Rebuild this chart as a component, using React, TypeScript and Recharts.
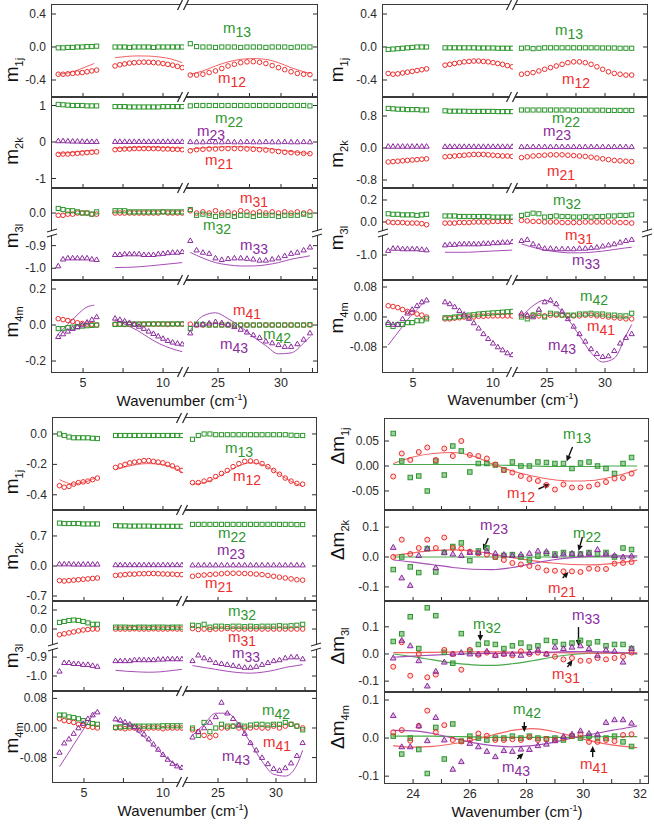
import React from "react"
import { ComposedChart, Scatter, Line, XAxis, YAxis, ReferenceLine } from "recharts"

const FONT = "'Liberation Sans', Arial, Helvetica, sans-serif"
const INK = "#2b2b2b"
const RED = "#ee2d2d"
const GREEN = "#2c962c"
const PURPLE = "#8b2b9d"
const RED_LINE = "#f26262"
const GREEN_LINE = "#4aa84a"
const PURPLE_LINE = "#a64db5"

// x positions of the measured points (three wavenumber windows)
const XA = [3.45, 3.75, 4.05, 4.35, 4.65, 4.95, 5.25, 5.55, 5.85]
const XB = [7.0, 7.3, 7.6, 7.9, 8.2, 8.5, 8.8, 9.1, 9.4, 9.7, 10.0, 10.3, 10.6, 10.9, 11.2]
const XC = [22.8, 23.3, 23.8, 24.3, 24.8, 25.3, 25.8, 26.3, 26.8, 27.3, 27.8, 28.3, 28.8, 29.3, 29.8, 30.3, 30.8, 31.3, 31.8, 32.3]
const XS = [...XA, ...XB, ...XC]
// x positions of the model curves
const LA = [3.45, 3.9, 4.35, 4.8, 5.25, 5.7]
const LB = [7.0, 7.7, 8.4, 9.1, 9.8, 10.5, 11.2]
const LC = [22.8, 23.8, 24.8, 25.8, 26.8, 27.8, 28.8, 29.8, 30.8, 31.8, 32.3]
// difference panel
const XD = [23.3, 23.6, 23.9, 24.2, 24.5, 24.8, 25.1, 25.4, 25.7, 26.0, 26.3, 26.6, 26.9, 27.2, 27.5, 27.8, 28.1, 28.4, 28.7, 29.0, 29.3, 29.6, 29.9, 30.2, 30.5, 30.8, 31.1, 31.4, 31.7]
const LD = [23.3, 24.0, 24.7, 25.4, 26.1, 26.8, 27.5, 28.2, 28.9, 29.6, 30.3, 31.0, 31.7, 31.9]

const X_TICKS_A = [5, 7.5, 10]
const X_LAB_A = [5, 10]
const X_TICKS_C = [25, 27.5, 30, 32.5]
const X_LAB_C = [25, 30]
const X_TICKS_D = [24, 25, 26, 27, 28, 29, 30, 31, 32]
const X_LAB_D = [24, 26, 28, 30, 32]

// ---- top-left panel ----
const TL_M13 = [
  -0.01, -0.01, -0.005, -0.005, 0, 0, 0.005, 0.005, 0.01,
  0, 0, 0, -0.005, 0, 0, 0, 0, -0.005, 0, 0, 0, 0, 0, 0,
  0.04, 0.005, 0, 0, -0.005, 0, 0, 0, -0.005, 0, 0, 0, -0.005, 0, 0, 0, -0.005, 0, 0, 0,
]
const TL_M12 = [
  -0.33, -0.33, -0.325, -0.32, -0.315, -0.31, -0.3, -0.29, -0.28,
  -0.23, -0.215, -0.205, -0.195, -0.19, -0.185, -0.183, -0.185, -0.188, -0.193, -0.2, -0.21, -0.22, -0.235, -0.25,
  -0.34, -0.34, -0.33, -0.31, -0.29, -0.26, -0.23, -0.21, -0.19, -0.18, -0.178, -0.185, -0.2, -0.225, -0.25, -0.275, -0.3, -0.32, -0.33, -0.335,
]
const TL_M12_FIT = [
  -0.33, -0.32, -0.3, -0.27, -0.235, -0.2,
  -0.13, -0.115, -0.108, -0.11, -0.122, -0.145, -0.19,
  -0.33, -0.29, -0.23, -0.18, -0.15, -0.14, -0.15, -0.19, -0.25, -0.3, -0.32,
]
const TL_M22 = [
  1.03, 1.02, 1.01, 1.0, 1.0, 1.0, 0.99, 0.99, 0.99,
  0.97, 0.97, 0.97, 0.96, 0.96, 0.96, 0.96, 0.96, 0.96, 0.96, 0.97, 0.97, 0.97, 0.97, 0.97,
  0.99, 1.0, 1.0, 1.0, 1.0, 1.0, 1.0, 1.0, 1.0, 1.0, 1.0, 1.0, 1.0, 1.0, 1.0, 1.0, 1.0, 1.0, 1.0, 0.99,
]
const TL_M23 = [
  0.03, 0.03, 0.025, 0.02, 0.02, 0.015, 0.01, 0.01, 0.01,
  0.01, 0.01, 0.01, 0.01, 0.01, 0.01, 0.01, 0.01, 0.01, 0.01, 0.01, 0.01, 0.01, 0.01, 0.01,
  0.005, 0, 0, 0.005, 0, 0, 0.005, 0, 0, 0.005, 0, 0, 0.005, 0, 0, 0.005, 0, 0, 0.005, 0,
]
const TL_M21 = [
  -0.34, -0.33, -0.33, -0.32, -0.31, -0.3, -0.29, -0.28, -0.27,
  -0.21, -0.2, -0.19, -0.19, -0.18, -0.18, -0.18, -0.18, -0.18, -0.18, -0.19, -0.19, -0.2, -0.2, -0.21,
  -0.24, -0.21, -0.2, -0.19, -0.19, -0.18, -0.18, -0.18, -0.18, -0.19, -0.2, -0.21, -0.22, -0.24, -0.26, -0.28, -0.29, -0.3, -0.31, -0.32,
]
const TL_M21_FIT = [
  -0.31, -0.3, -0.28, -0.26, -0.24, -0.22,
  -0.17, -0.155, -0.145, -0.14, -0.145, -0.155, -0.17,
  -0.2, -0.16, -0.14, -0.13, -0.13, -0.14, -0.17, -0.21, -0.26, -0.3, -0.31,
]
const TL_M31 = [
  -0.01, -0.01, -0.005, -0.005, 0, 0, 0, -0.005, -0.005,
  0, 0, 0, 0, 0, 0, 0, 0, 0, 0, 0.005, 0, 0, 0, 0,
  0.01, 0, 0.005, 0, 0.01, 0, 0.005, 0, 0.01, 0.005, 0, 0.005, 0, 0.005, 0, 0.005, 0, 0.005, 0, 0.005,
]
const TL_M32 = [
  0.02, 0.015, 0.01, 0.01, 0.005, 0, 0, -0.005, 0.005,
  0.01, 0.01, 0.01, 0.005, 0.005, 0.005, 0.005, 0.005, 0.005, 0.005, 0.005, 0.005, 0.005, 0.005, 0.005,
  0.015, -0.01, -0.005, -0.01, -0.015, -0.01, -0.01, -0.015, -0.01, -0.01, -0.015, -0.01, -0.01, -0.01, -0.015, -0.01, -0.01, -0.01, -0.005, -0.01,
]
const TL_M33 = [
  -0.99, -0.96, -0.955, -0.955, -0.955, -0.955, -0.955, -0.96, -0.962,
  -0.94, -0.94, -0.937, -0.937, -0.937, -0.937, -0.94, -0.94, -0.94, -0.937, -0.935, -0.932, -0.93, -0.93, -0.927,
  -0.878, -0.92, -0.93, -0.935, -0.955, -0.962, -0.958, -0.955, -0.955, -0.957, -0.96, -0.965, -0.965, -0.96, -0.955, -0.945, -0.935, -0.93, -0.92, -0.907,
]
const TL_M33_FIT = [
  null, null, null, null, null, null,
  -0.997, -0.996, -0.994, -0.99, -0.985, -0.98, -0.975,
  -0.93, -0.955, -0.975, -0.985, -0.99, -0.99, -0.985, -0.975, -0.96, -0.95, -0.945,
]
const TL_M41 = [
  0.035, 0.03, 0.025, 0.02, 0.012, 0.008, 0.005, 0.003, 0,
  0.005, 0.005, 0.003, 0.005, 0.005, 0.005, 0.003, 0.005, 0.005, 0.005, 0.005, 0.003, 0.005, 0.005, 0.005,
  0.005, 0, 0, 0, 0, 0, 0, 0, 0, 0, 0, 0, 0, 0, 0, 0, 0, 0, 0, 0,
]
const TL_M42 = [
  -0.02, -0.02, -0.015, -0.012, -0.01, -0.006, -0.004, -0.002, 0,
  0.003, 0.004, 0.005, 0.005, 0.005, 0.005, 0.006, 0.006, 0.006, 0.006, 0.006, 0.006, 0.006, 0.006, 0.006,
  -0.02, 0.005, 0.002, 0, 0, 0, 0, 0, 0, 0, 0, 0, 0, 0, 0, 0, 0, 0, 0, 0.002,
]
const TL_M43 = [
  -0.065, -0.05, -0.035, -0.02, -0.01, 0, 0.015, 0.03, 0.045,
  0.037, 0.03, 0.022, 0.013, 0.003, -0.008, -0.02, -0.035, -0.048, -0.062, -0.075, -0.087, -0.096, -0.102, -0.106,
  -0.045, 0, 0.005, 0.01, 0.018, 0.012, 0.003, -0.01, -0.025, -0.04, -0.055, -0.07, -0.09, -0.1, -0.11, -0.12, -0.12, -0.105, -0.08, -0.045,
]
const TL_M43_FIT = [
  -0.05, -0.01, 0.03, 0.07, 0.1, 0.11,
  0.03, 0, -0.03, -0.07, -0.105, -0.13, -0.148,
  -0.03, 0.05, 0.068, 0.035, -0.01, -0.065, -0.115, -0.16, -0.155, -0.1, -0.065,
]

// ---- top-right panel ----
const TR_M13 = [
  -0.03, -0.025, -0.02, -0.015, -0.01, -0.005, 0, 0, 0,
  -0.01, -0.01, -0.01, -0.01, -0.01, -0.01, -0.01, -0.012, -0.012, -0.012, -0.012, -0.015, -0.015, -0.015, -0.015,
  -0.015, -0.01, -0.02, -0.015, -0.01, -0.01, -0.01, -0.01, -0.01, -0.01, -0.01, -0.01, -0.01, -0.01, -0.012, -0.012, -0.012, -0.015, -0.015, -0.015,
]
const TR_M12 = [
  -0.32, -0.33, -0.325, -0.315, -0.305, -0.295, -0.285, -0.275, -0.265,
  -0.22, -0.21, -0.2, -0.19, -0.18, -0.175, -0.17, -0.17, -0.175, -0.18, -0.19, -0.2, -0.21, -0.225, -0.24,
  -0.33, -0.32, -0.31, -0.29, -0.27, -0.25, -0.23, -0.21, -0.19, -0.18, -0.18, -0.19, -0.21, -0.24, -0.27, -0.3, -0.32, -0.33, -0.34, -0.34,
]
const TR_M22 = [
  0.99, 0.98, 0.97, 0.97, 0.96, 0.96, 0.96, 0.95, 0.95,
  0.93, 0.92, 0.92, 0.92, 0.92, 0.915, 0.915, 0.915, 0.915, 0.915, 0.915, 0.91, 0.91, 0.91, 0.91,
  0.95, 0.95, 0.95, 0.95, 0.95, 0.95, 0.95, 0.95, 0.95, 0.945, 0.945, 0.945, 0.945, 0.945, 0.945, 0.94, 0.94, 0.94, 0.94, 0.94,
]
const TR_M23 = [
  0.04, 0.04, 0.04, 0.04, 0.04, 0.04, 0.04, 0.04, 0.04,
  0.035, 0.035, 0.035, 0.035, 0.035, 0.035, 0.035, 0.035, 0.035, 0.035, 0.035, 0.035, 0.035, 0.035, 0.035,
  0.03, 0.03, 0.03, 0.03, 0.03, 0.03, 0.03, 0.03, 0.03, 0.03, 0.03, 0.03, 0.03, 0.03, 0.03, 0.03, 0.03, 0.03, 0.03, 0.03,
]
const TR_M21 = [
  -0.35, -0.34, -0.33, -0.32, -0.31, -0.3, -0.29, -0.28, -0.27,
  -0.22, -0.21, -0.2, -0.19, -0.18, -0.17, -0.16, -0.16, -0.16, -0.17, -0.18, -0.19, -0.2, -0.2, -0.21,
  -0.24, -0.22, -0.2, -0.19, -0.18, -0.17, -0.17, -0.17, -0.18, -0.19, -0.2, -0.21, -0.23, -0.25, -0.27, -0.29, -0.31, -0.32, -0.33, -0.34,
]
const TR_M32 = [
  0.075, 0.07, 0.07, 0.065, 0.065, 0.065, 0.06, 0.065, 0.07,
  0.055, 0.055, 0.055, 0.05, 0.05, 0.05, 0.05, 0.05, 0.05, 0.05, 0.045, 0.045, 0.045, 0.045, 0.045,
  0.06, 0.07, 0.08, 0.075, 0.045, 0.05, 0.055, 0.05, 0.05, 0.045, 0.045, 0.05, 0.045, 0.05, 0.05, 0.055, 0.055, 0.06, 0.06, 0.065,
]
const TR_M31 = [
  0, -0.005, -0.005, -0.005, -0.01, -0.01, -0.01, -0.015, -0.025,
  -0.01, -0.01, -0.01, -0.005, -0.005, -0.005, 0, 0, 0, 0, 0.005, 0.005, 0.005, 0.005, 0.005,
  0.015, 0.01, 0.005, 0.005, 0, 0, 0, -0.005, -0.005, -0.005, -0.005, 0, 0, 0, 0, 0, 0, -0.005, -0.005, -0.01,
]
const TR_M33 = [
  -0.96, -0.94, -0.94, -0.945, -0.945, -0.945, -0.945, -0.95, -0.955,
  -0.91, -0.905, -0.905, -0.9, -0.9, -0.9, -0.9, -0.9, -0.895, -0.895, -0.89, -0.89, -0.885, -0.885, -0.88,
  -0.87, -0.86, -0.9, -0.92, -0.94, -0.94, -0.945, -0.945, -0.945, -0.945, -0.94, -0.94, -0.935, -0.93, -0.92, -0.91, -0.9, -0.885, -0.87, -0.86,
]
const TR_M33_FIT = [
  null, null, null, null, null, null,
  -0.975, -0.975, -0.975, -0.97, -0.965, -0.96, -0.955,
  -0.9, -0.93, -0.955, -0.97, -0.98, -0.98, -0.975, -0.965, -0.95, -0.935, -0.93,
]
const TR_M41 = [
  0.03, 0.028, 0.025, 0.02, 0.015, 0.012, 0.008, 0.005, 0,
  -0.005, -0.005, -0.003, -0.002, 0, 0, 0, 0.002, 0.002, 0.003, 0.003, 0.003, 0.003, 0.003, 0.003,
  0.005, 0.002, 0.005, 0.003, 0.003, 0.005, 0.005, 0.005, 0.003, 0.003, 0.003, 0.005, 0.005, 0.003, 0.002, 0, -0.002, -0.003, -0.005, -0.005,
]
const TR_M42 = [
  -0.02, -0.025, -0.02, -0.02, -0.015, -0.015, -0.01, -0.01, -0.005,
  -0.002, -0.002, 0, 0.002, 0.003, 0.005, 0.006, 0.008, 0.009, 0.01, 0.011, 0.012, 0.013, 0.014, 0.015,
  0, -0.005, 0.005, 0.01, 0, 0.01, 0.008, 0.005, 0.005, 0.005, 0.008, 0.008, 0.01, 0.008, 0.008, 0.005, 0.005, 0.003, 0.003, 0.01,
]
const TR_M43 = [
  -0.015, -0.02, -0.02, -0.005, 0.01, 0.02, 0.03, 0.04, 0.045,
  0.04, 0.035, 0.027, 0.017, 0.007, -0.004, -0.016, -0.03, -0.045, -0.058, -0.07, -0.08, -0.088, -0.096, -0.101,
  0.01, 0.005, 0, 0.02, 0.04, 0.045, 0.035, 0.015, -0.005, -0.025, -0.045, -0.065, -0.085, -0.098, -0.106, -0.104, -0.09, -0.07, -0.055, -0.045,
]
const TR_M43_FIT = [
  -0.075, -0.05, -0.025, 0, 0.02, 0.04,
  null, null, null, null, null, null, null,
  0, 0.03, 0.045, 0.03, -0.005, -0.05, -0.095, -0.12, -0.11, -0.05, -0.02,
]

// ---- bottom-left panel ----
const BL_M13 = [
  0, -0.01, -0.02, -0.025, -0.025, -0.025, -0.025, -0.028, -0.03,
  -0.01, -0.01, -0.01, -0.01, -0.01, -0.01, -0.01, -0.01, -0.01, -0.01, -0.01, -0.01, -0.01, -0.01, -0.01,
  -0.035, -0.01, 0, 0, -0.005, -0.005, -0.005, -0.005, -0.005, -0.005, -0.005, -0.005, -0.005, -0.005, -0.005, -0.005, -0.005, -0.008, -0.01, -0.01,
]
const BL_M12 = [
  -0.34, -0.35, -0.345, -0.33, -0.32, -0.315, -0.31, -0.3, -0.29,
  -0.22, -0.21, -0.2, -0.19, -0.185, -0.18, -0.175, -0.175, -0.18, -0.185, -0.19, -0.2, -0.21, -0.225, -0.24,
  -0.32, -0.32, -0.31, -0.3, -0.28, -0.26, -0.24, -0.215, -0.195, -0.18, -0.178, -0.183, -0.195, -0.215, -0.24, -0.265, -0.29, -0.31, -0.325, -0.33,
]
const BL_M12_FIT = [
  -0.3, -0.32, -0.33, -0.32, -0.31, -0.29,
  -0.235, -0.215, -0.2, -0.195, -0.2, -0.215, -0.25,
  -0.33, -0.32, -0.29, -0.25, -0.21, -0.19, -0.2, -0.24, -0.29, -0.33, -0.345,
]
const BL_M22 = [
  1.0, 0.99, 0.99, 0.99, 0.99, 0.98, 0.98, 0.98, 0.98,
  0.94, 0.935, 0.935, 0.93, 0.93, 0.93, 0.93, 0.93, 0.925, 0.925, 0.925, 0.925, 0.925, 0.925, 0.925,
  0.97, 0.97, 0.97, 0.97, 0.97, 0.97, 0.97, 0.97, 0.97, 0.97, 0.97, 0.97, 0.97, 0.97, 0.97, 0.97, 0.97, 0.97, 0.965, 0.965,
]
const BL_M23 = [
  0.045, 0.045, 0.045, 0.04, 0.04, 0.04, 0.04, 0.04, 0.04,
  0.025, 0.025, 0.025, 0.025, 0.025, 0.025, 0.025, 0.025, 0.025, 0.025, 0.025, 0.025, 0.025, 0.025, 0.025,
  0.02, 0.02, 0.02, 0.02, 0.02, 0.02, 0.02, 0.02, 0.02, 0.02, 0.02, 0.02, 0.02, 0.02, 0.02, 0.02, 0.02, 0.02, 0.02, 0.02,
]
const BL_M21 = [
  -0.34, -0.35, -0.34, -0.33, -0.32, -0.31, -0.3, -0.29, -0.28,
  -0.22, -0.21, -0.2, -0.19, -0.19, -0.18, -0.18, -0.175, -0.175, -0.18, -0.185, -0.19, -0.19, -0.2, -0.2,
  -0.24, -0.22, -0.21, -0.2, -0.19, -0.18, -0.17, -0.17, -0.17, -0.175, -0.18, -0.19, -0.2, -0.22, -0.24, -0.26, -0.28, -0.3, -0.32, -0.33,
]
const BL_M32 = [
  0.07, 0.08, 0.09, 0.095, 0.09, 0.08, 0.065, 0.05, 0.05,
  0.02, 0.02, 0.02, 0.018, 0.018, 0.02, 0.02, 0.018, 0.02, 0.02, 0.02, 0.018, 0.02, 0.02, 0.02,
  0.04, 0.035, 0.05, 0.02, 0.03, 0.03, 0.025, 0.03, 0.03, 0.025, 0.03, 0.025, 0.03, 0.03, 0.03, 0.035, 0.03, 0.035, 0.04, 0.05,
]
const BL_M31 = [
  -0.06, -0.05, -0.04, -0.03, -0.02, -0.01, -0.005, 0, 0,
  0, 0, 0, 0, 0.003, 0, 0, 0, 0.003, 0, 0, 0, 0.003, 0, 0,
  0.005, -0.005, 0, -0.005, 0, 0, 0.005, 0, 0, 0, 0, 0, 0, 0, 0, 0, 0, 0, 0, 0,
]
const BL_M33 = [
  -0.975, -0.93, -0.93, -0.935, -0.935, -0.94, -0.94, -0.945, -0.95,
  -0.92, -0.92, -0.92, -0.92, -0.915, -0.915, -0.915, -0.915, -0.915, -0.912, -0.912, -0.91, -0.91, -0.91, -0.91,
  -0.92, -0.89, -0.905, -0.915, -0.93, -0.935, -0.94, -0.945, -0.95, -0.955, -0.955, -0.95, -0.94, -0.93, -0.92, -0.915, -0.905, -0.9, -0.9, -0.91,
]
const BL_M33_FIT = [
  null, null, null, null, null, null,
  -0.97, -0.975, -0.978, -0.98, -0.978, -0.972, -0.965,
  -0.945, -0.955, -0.965, -0.975, -0.982, -0.985, -0.98, -0.97, -0.955, -0.945, -0.94,
]
const BL_M41 = [
  0.025, 0.02, 0.018, 0.015, 0.01, 0.007, 0.004, 0.002, 0,
  0, 0, -0.002, 0, 0, 0, -0.002, 0, 0, 0, -0.002, 0, 0, 0, 0,
  -0.005, -0.01, -0.02, -0.025, -0.02, 0, 0, 0.005, 0, 0, 0, 0.002, 0, 0, 0.005, 0, 0.005, 0.01, 0.005, 0,
]
const BL_M42 = [
  0.035, 0.035, 0.03, 0.028, 0.025, 0.02, 0.015, 0.012, 0.01,
  0.002, 0.003, 0.004, 0.005, 0.005, 0.005, 0.005, 0.005, 0.005, 0.005, 0.006, 0.006, 0.006, 0.006, 0.006,
  0, -0.02, 0.015, -0.01, 0, 0.01, 0.005, 0.005, 0.008, 0.005, 0.008, 0.01, 0.01, 0.008, 0.01, 0.01, 0.015, 0.01, 0.005, -0.005,
]
const BL_M43 = [
  -0.066, -0.041, -0.03, -0.015, 0, 0.012, 0.025, 0.035, 0.043,
  0.024, 0.021, 0.016, 0.01, 0.003, -0.006, -0.017, -0.03, -0.044, -0.058, -0.072, -0.085, -0.096, -0.103, -0.107,
  -0.025, -0.01, 0, 0.015, 0.03, 0.069, 0.04, 0.025, 0.008, -0.015, -0.04, -0.06, -0.08, -0.097, -0.11, -0.115, -0.108, -0.095, -0.075, -0.04,
]
const BL_M43_FIT = [
  -0.105, -0.075, -0.045, -0.015, 0.015, 0.045,
  0.02, 0.01, -0.01, -0.035, -0.065, -0.09, -0.11,
  -0.02, 0.01, 0.04, 0.04, 0.01, -0.04, -0.09, -0.125, -0.13, -0.1, -0.06,
]

// ---- bottom-right panel (differences) ----
const BR_M12 = [-0.021, 0.025, 0.012, 0.028, 0.037, 0.012, 0.035, 0.02, 0.05, 0.022, 0.02, 0.015, 0.003, -0.008, -0.013, -0.02, -0.026, -0.03, -0.038, -0.047, -0.037, -0.043, -0.043, -0.041, -0.037, -0.032, -0.025, -0.024, -0.015]
const BR_M13 = [0.065, 0.01, -0.023, -0.02, -0.05, 0.01, -0.018, 0.04, 0.03, -0.012, 0.005, 0.005, 0.002, -0.008, 0.008, 0, 0, 0.008, 0.007, 0.005, 0.005, -0.005, 0.006, 0.008, 0, -0.005, -0.015, 0.005, 0.017]
const BR_M21 = [0, 0.058, 0.01, 0.03, 0.058, 0.03, 0.065, 0.03, 0.028, 0.018, 0.012, 0.008, 0, -0.01, -0.02, -0.025, -0.03, -0.035, -0.045, -0.046, -0.048, -0.048, -0.05, -0.039, -0.04, -0.04, -0.022, -0.02, -0.017]
const BR_M22 = [-0.042, 0, -0.033, -0.052, 0.028, -0.05, 0.015, 0.035, 0.047, -0.012, 0.02, 0.03, 0, 0.005, 0.008, 0, -0.01, 0.003, 0.012, 0.01, 0.015, 0.01, 0.01, 0.015, 0.01, 0.015, 0, 0.03, 0.025]
const BR_M23 = [0.032, -0.07, -0.095, 0.005, 0.028, -0.036, 0.015, 0.01, 0.005, 0.015, 0.015, 0.02, 0.012, 0.008, 0.005, 0.008, 0.012, 0.02, 0.018, 0.005, 0.01, 0.012, 0.01, 0.012, 0.025, 0.01, 0.005, 0, 0.003]
const BR_M31 = [-0.047, 0.043, -0.08, 0, -0.086, -0.076, 0.015, 0, -0.058, 0.015, -0.003, 0.005, -0.005, 0, -0.005, 0.01, 0, 0.005, 0, -0.01, -0.02, -0.015, -0.025, -0.025, -0.015, -0.02, -0.015, -0.01, 0.005]
const BR_M32 = [0.046, 0.074, 0.137, 0.02, 0.17, 0.141, 0.006, -0.034, 0.075, 0.01, 0.035, 0.04, 0.035, 0.02, 0.03, 0.04, 0.025, 0.03, 0.05, 0.045, 0.035, 0.04, 0.05, 0.04, 0.045, 0.03, 0.035, 0.035, 0.02]
const BR_M33 = [-0.015, 0.05, 0.03, -0.025, -0.118, -0.064, -0.03, 0, 0.005, 0, 0, 0.01, -0.005, 0, 0, -0.005, 0.005, 0.015, 0, 0.025, 0.02, 0.025, 0.03, 0.02, -0.005, 0.015, 0.01, -0.03, 0.02]
const BR_M41 = [0.015, 0.021, -0.007, 0.032, 0.072, 0.015, 0.034, -0.005, -0.009, -0.005, 0.012, 0.006, -0.005, -0.005, -0.003, -0.005, 0.002, -0.005, -0.003, -0.005, 0, 0.006, 0.01, -0.01, -0.01, -0.005, -0.008, 0.008, 0.01]
const BR_M42 = [0.005, -0.042, 0, -0.03, -0.093, 0.028, -0.055, 0.037, -0.008, 0.005, 0, -0.005, 0, 0, 0.005, 0, 0.005, 0, -0.002, 0, -0.005, 0.005, 0, 0.005, 0, 0, 0.005, -0.01, -0.022]
const BR_M43 = [0.059, -0.023, -0.023, 0.032, -0.007, 0.054, -0.005, -0.082, -0.062, -0.014, -0.023, -0.035, -0.049, -0.033, -0.035, -0.029, -0.03, -0.02, -0.016, -0.007, 0.004, 0.01, 0.019, 0.012, 0.01, 0.041, 0.048, 0.048, 0.039]

const BR_M12_FIT = [0.005, 0.018, 0.025, 0.027, 0.02, 0.004, -0.01, -0.02, -0.027, -0.03, -0.029, -0.022, -0.011, -0.007]
const BR_M13_FIT = [0.003, 0.003, 0.003, 0.003, 0.003, 0.002, 0.001, 0, -0.001, -0.001, -0.001, 0, 0, 0]
const BR_M21_FIT = [0.005, 0.014, 0.021, 0.024, 0.02, 0.01, -0.002, -0.012, -0.02, -0.025, -0.026, -0.022, -0.014, -0.011]
const BR_M22_FIT = [0, 0, 0, 0, 0, 0, 0, 0, 0, 0, 0, 0, 0, 0]
const BR_M23_FIT = [-0.01, -0.017, -0.026, -0.035, -0.041, -0.042, -0.035, -0.022, -0.01, -0.002, 0.002, 0.004, 0.004, 0.004]
const BR_M31_FIT = [0.005, 0.005, 0.006, 0.007, 0.008, 0.008, 0.007, 0.006, 0.005, 0.004, 0.003, 0.003, 0.004, 0.005]
const BR_M32_FIT = [0, -0.01, -0.022, -0.033, -0.04, -0.042, -0.036, -0.025, -0.012, -0.002, 0.003, 0.004, 0.001, 0]
const BR_M33_FIT = [-0.012, -0.008, -0.004, -0.001, 0.001, 0.002, 0.003, 0.005, 0.007, 0.009, 0.009, 0.007, 0.003, 0]
const BR_M41_FIT = [-0.02, -0.024, -0.022, -0.015, -0.005, 0.008, 0.02, 0.025, 0.018, 0.005, -0.008, -0.018, -0.024, -0.025]
const BR_M42_FIT = [0.005, 0.005, 0.005, 0.004, 0.003, 0.002, 0.002, 0.002, 0.002, 0.002, 0.003, 0.004, 0.004, 0.004]
const BR_M43_FIT = [0.02, 0.019, 0.012, 0, -0.012, -0.02, -0.023, -0.02, -0.012, 0, 0.01, 0.02, 0.029, 0.032]

type Kind = "o" | "s" | "t"
type Pt = { x: number; y: number }
type XMode = "none" | "ticks" | "labels"
interface Mark { data: Pt[]; color: string; kind: Kind; fill: string }
interface Fit { data: Pt[]; color: string }
interface Arrow { x1: number; y1: number; x2: number; y2: number }

function pairs(xs: number[], ys: (number | null)[]): Pt[] {
  const out: Pt[] = []
  xs.forEach((x, i) => {
    const y = ys[i]
    if (y !== null && y !== undefined) out.push({ x, y })
  })
  return out
}

const mk = (ys: number[], color: string, kind: Kind): Mark => ({ data: pairs(XS, ys), color, kind, fill: "none" })
const mkD = (ys: number[], color: string, kind: Kind, fill: string): Mark => ({ data: pairs(XD, ys), color, kind, fill })
function fs(ys: (number | null)[], color: string): Fit[] {
  const out: Fit[] = []
  let s = 0
  for (const xs of [LA, LB, LC]) {
    const part = pairs(xs, ys.slice(s, s + xs.length))
    if (part.length) out.push({ data: part, color })
    s += xs.length
  }
  return out
}
const fitD = (ys: number[], color: string): Fit[] => [{ data: pairs(LD, ys), color }]

function dot(kind: Kind, color: string, fill: string, size: number) {
  return (p: any) => {
    const { cx, cy } = p
    if (cx == null || cy == null) return <g />
    if (kind === "o") return <circle cx={cx} cy={cy} r={size} fill={fill} stroke={color} strokeWidth={1} />
    if (kind === "s")
      return <rect x={cx - size * 0.9} y={cy - size * 0.9} width={size * 1.8} height={size * 1.8} fill={fill} stroke={color} strokeWidth={1} />
    const r = size * 1.2
    return (
      <polygon
        points={`${cx},${cy - r} ${cx + r * 0.95},${cy + r * 0.65} ${cx - r * 0.95},${cy + r * 0.65}`}
        fill={fill}
        stroke={color}
        strokeWidth={1}
      />
    )
  }
}

function ArrowShape(p: any) {
  const { x1, y1, x2, y2 } = p
  if ([x1, y1, x2, y2].some((v) => v == null || isNaN(v))) return <g />
  const a = Math.atan2(y2 - y1, x2 - x1)
  const L = 6
  const hw = 2.8
  const bx = x2 - L * Math.cos(a)
  const by = y2 - L * Math.sin(a)
  const px = -Math.sin(a) * hw
  const py = Math.cos(a) * hw
  return (
    <g>
      <line x1={x1} y1={y1} x2={bx} y2={by} stroke="#111" strokeWidth={1.4} />
      <polygon points={`${x2},${y2} ${bx + px},${by + py} ${bx - px},${by - py}`} fill="#111" />
    </g>
  )
}

const YW = 44
const XH = 24

const yTick = (dec: number) => (p: any) => (
  <text x={p.x} y={p.y} textAnchor="end" dominantBaseline="central" fontSize={12} fontFamily={FONT} fill={INK}>
    {Number(p.payload.value).toFixed(dec)}
  </text>
)
const xTick = (lab: number[], show: boolean) => (p: any) => {
  const v = p.payload.value
  if (!show || !lab.includes(v)) return <g />
  return (
    <text x={p.x} y={p.y} textAnchor="middle" dominantBaseline="central" fontSize={12.5} fontFamily={FONT} fill={INK}>
      {v}
    </text>
  )
}
const blank = () => <g />

interface PlotProps {
  x: number
  y: number
  w: number
  h: number
  xDom: [number, number]
  xTicks: number[]
  xLab: number[]
  yDom: [number, number]
  yTicks: number[]
  dec: number
  yLabels: boolean
  rightTicks: boolean
  xMode: XMode
  marks: Mark[]
  fits: Fit[]
  size: number
  lw: number
  arrows?: Arrow[]
}

function Plot(p: PlotProps) {
  const padL = p.yLabels ? YW : 0
  const padR = p.rightTicks ? 1 : 0
  const padB = p.xMode === "labels" ? XH : p.xMode === "ticks" ? 1 : 0
  const W = padL + p.w + padR
  const H = p.h + padB
  const [lo, hi] = p.xDom
  const marks = p.marks
    .map((m) => ({ ...m, data: m.data.filter((q) => q.x >= lo && q.x <= hi) }))
    .filter((m) => m.data.length > 0)
  const fits = p.fits.filter((f) => f.data[0].x >= lo && f.data[0].x <= hi)
  return (
    <div style={{ position: "absolute", left: p.x - padL, top: p.y, width: W, height: H }}>
      <ComposedChart width={W} height={H} margin={{ top: 0, right: 0, bottom: 0, left: 0 }}>
        <XAxis
          type="number"
          dataKey="x"
          domain={p.xDom}
          ticks={p.xTicks}
          interval={0}
          allowDataOverflow
          hide={p.xMode === "none"}
          height={padB || 1}
          axisLine={false}
          tickSize={-4}
          tickMargin={15}
          stroke={INK}
          tick={xTick(p.xLab, p.xMode === "labels")}
        />
        <YAxis
          yAxisId="l"
          type="number"
          dataKey="y"
          domain={p.yDom}
          ticks={p.yTicks}
          interval={0}
          allowDataOverflow
          hide={!p.yLabels}
          width={YW}
          axisLine={false}
          tickSize={-4}
          tickMargin={10}
          stroke={INK}
          tick={yTick(p.dec)}
        />
        {p.rightTicks && (
          <YAxis
            yAxisId="r"
            orientation="right"
            type="number"
            dataKey="y"
            domain={p.yDom}
            ticks={p.yTicks}
            interval={0}
            allowDataOverflow
            width={1}
            axisLine={false}
            tickSize={-4}
            stroke={INK}
            tick={blank}
          />
        )}
        {fits.map((f, i) => (
          <Line
            key={"f" + i}
            yAxisId="l"
            data={f.data}
            dataKey="y"
            type="monotone"
            stroke={f.color}
            strokeWidth={p.lw}
            dot={false}
            activeDot={false}
            isAnimationActive={false}
          />
        ))}
        {marks.map((m, i) => (
          <Scatter
            key={"m" + i}
            yAxisId="l"
            data={m.data}
            dataKey="y"
            shape={dot(m.kind, m.color, m.fill, p.size)}
            isAnimationActive={false}
          />
        ))}
        {(p.arrows || []).map((a, i) => (
          <ReferenceLine
            key={"a" + i}
            yAxisId="l"
            segment={[
              { x: a.x1, y: a.y1 },
              { x: a.x2, y: a.y2 },
            ]}
            shape={ArrowShape}
            ifOverflow="visible"
          />
        ))}
      </ComposedChart>
    </div>
  )
}

interface SegSpec { w: number; dom: [number, number]; ticks: number[]; lab: number[] }
interface RowSpec {
  top: number
  h: number
  dom: [number, number]
  ticks: number[]
  dec: number
  xm: XMode
  marks: Mark[]
  fits: Fit[]
  arrows?: Arrow[]
}
interface PanelSpec { left: number; size: number; lw: number; segs: SegSpec[]; rows: RowSpec[] }

const TL: PanelSpec = {
  left: 52,
  size: 2.3,
  lw: 1,
  segs: [
    { w: 132, dom: [3.06, 11.31], ticks: X_TICKS_A, lab: X_LAB_A },
    { w: 133, dom: [22.3, 32.86], ticks: X_TICKS_C, lab: X_LAB_C },
  ],
  rows: [
    { top: 5, h: 92, dom: [-0.606, 0.509], ticks: [-0.4, 0, 0.4], dec: 1, xm: "ticks",
      marks: [mk(TL_M13, GREEN, "s"), mk(TL_M12, RED, "o")], fits: fs(TL_M12_FIT, RED_LINE) },
    { top: 97, h: 91, dom: [-1.26, 1.233], ticks: [-1, 0, 1], dec: 0, xm: "ticks",
      marks: [mk(TL_M22, GREEN, "s"), mk(TL_M23, PURPLE, "t"), mk(TL_M21, RED, "o")], fits: fs(TL_M21_FIT, RED_LINE) },
    { top: 188, h: 45, dom: [-0.087, 0.109], ticks: [0], dec: 1, xm: "none",
      marks: [mk(TL_M31, RED, "o"), mk(TL_M32, GREEN, "s")], fits: [] },
    { top: 233, h: 47, dom: [-1.052, -0.844], ticks: [-1.0, -0.9], dec: 1, xm: "ticks",
      marks: [mk(TL_M33, PURPLE, "t")], fits: fs(TL_M33_FIT, PURPLE_LINE) },
    { top: 280, h: 92, dom: [-0.261, 0.25], ticks: [-0.2, 0, 0.2], dec: 1, xm: "labels",
      marks: [mk(TL_M41, RED, "o"), mk(TL_M42, GREEN, "s"), mk(TL_M43, PURPLE, "t")], fits: fs(TL_M43_FIT, PURPLE_LINE) },
  ],
}

const TR: PanelSpec = {
  left: 383,
  size: 2.3,
  lw: 1,
  segs: [
    { w: 130, dom: [3.125, 11.25], ticks: X_TICKS_A, lab: X_LAB_A },
    { w: 134, dom: [22.07, 33.62], ticks: X_TICKS_C, lab: X_LAB_C },
  ],
  rows: [
    { top: 5, h: 92, dom: [-0.606, 0.509], ticks: [-0.4, 0, 0.4], dec: 1, xm: "ticks",
      marks: [mk(TR_M13, GREEN, "s"), mk(TR_M12, RED, "o")], fits: [] },
    { top: 97, h: 91, dom: [-1.0, 1.275], ticks: [-0.8, 0, 0.8], dec: 1, xm: "ticks",
      marks: [mk(TR_M22, GREEN, "s"), mk(TR_M23, PURPLE, "t"), mk(TR_M21, RED, "o")], fits: [] },
    { top: 188, h: 45, dom: [-0.1, 0.309], ticks: [0, 0.2], dec: 1, xm: "none",
      marks: [mk(TR_M31, RED, "o"), mk(TR_M32, GREEN, "s")], fits: [] },
    { top: 233, h: 47, dom: [-1.227, -0.8], ticks: [-1.0], dec: 1, xm: "ticks",
      marks: [mk(TR_M33, PURPLE, "t")], fits: fs(TR_M33_FIT, PURPLE_LINE) },
    { top: 280, h: 92, dom: [-0.1467, 0.0987], ticks: [-0.08, 0, 0.08], dec: 2, xm: "labels",
      marks: [mk(TR_M41, RED, "o"), mk(TR_M42, GREEN, "s"), mk(TR_M43, PURPLE, "t")], fits: fs(TR_M43_FIT, PURPLE_LINE) },
  ],
}

const BL: PanelSpec = {
  left: 53,
  size: 2.3,
  lw: 1,
  segs: [
    { w: 130, dom: [3.04, 11.27], ticks: X_TICKS_A, lab: X_LAB_A },
    { w: 133, dom: [21.98, 33.45], ticks: X_TICKS_C, lab: X_LAB_C },
  ],
  rows: [
    { top: 418, h: 92, dom: [-0.5, 0.105], ticks: [-0.4, -0.2, 0], dec: 1, xm: "ticks",
      marks: [mk(BL_M13, GREEN, "s"), mk(BL_M12, RED, "o")], fits: fs(BL_M12_FIT, RED_LINE) },
    { top: 510, h: 91, dom: [-0.816, 1.305], ticks: [-0.7, 0, 0.7], dec: 1, xm: "ticks",
      marks: [mk(BL_M22, GREEN, "s"), mk(BL_M23, PURPLE, "t"), mk(BL_M21, RED, "o")], fits: [] },
    { top: 601, h: 46, dom: [-0.189, 0.295], ticks: [0, 0.2], dec: 1, xm: "none",
      marks: [mk(BL_M31, RED, "o"), mk(BL_M32, GREEN, "s")], fits: [] },
    { top: 647, h: 44, dom: [-1.079, -0.847], ticks: [-1.0, -0.9], dec: 1, xm: "ticks",
      marks: [mk(BL_M33, PURPLE, "t")], fits: fs(BL_M33_FIT, PURPLE_LINE) },
    { top: 691, h: 91, dom: [-0.146, 0.1], ticks: [-0.08, 0, 0.08], dec: 2, xm: "labels",
      marks: [mk(BL_M41, RED, "o"), mk(BL_M42, GREEN, "s"), mk(BL_M43, PURPLE, "t")], fits: fs(BL_M43_FIT, PURPLE_LINE) },
  ],
}

const RF = "rgba(240,90,90,0.22)"
const GF = "rgba(70,160,70,0.5)"
const PF = "rgba(150,70,175,0.35)"

const BR: PanelSpec = {
  left: 385,
  size: 2.5,
  lw: 1.2,
  segs: [{ w: 263, dom: [23.01, 32.28], ticks: X_TICKS_D, lab: X_LAB_D }],
  rows: [
    { top: 419, h: 91, dom: [-0.088, 0.094], ticks: [-0.05, 0, 0.05], dec: 2, xm: "ticks",
      marks: [mkD(BR_M13, GREEN, "s", GF), mkD(BR_M12, RED, "o", RF)],
      fits: [...fitD(BR_M13_FIT, GREEN_LINE), ...fitD(BR_M12_FIT, RED_LINE)],
      arrows: [
        { x1: 29.62, y1: 0.038, x2: 29.41, y2: 0.009 },
        { x1: 28.42, y1: -0.046, x2: 28.82, y2: -0.036 },
      ] },
    { top: 510, h: 91, dom: [-0.147, 0.157], ticks: [-0.1, 0, 0.1], dec: 1, xm: "ticks",
      marks: [mkD(BR_M22, GREEN, "s", GF), mkD(BR_M21, RED, "o", RF), mkD(BR_M23, PURPLE, "t", PF)],
      fits: [...fitD(BR_M22_FIT, GREEN_LINE), ...fitD(BR_M21_FIT, RED_LINE), ...fitD(BR_M23_FIT, PURPLE_LINE)],
      arrows: [
        { x1: 26.65, y1: 0.063, x2: 26.47, y2: 0.023 },
        { x1: 29.97, y1: 0.067, x2: 29.83, y2: 0.02 },
        { x1: 29.27, y1: -0.07, x2: 29.48, y2: -0.05 },
      ] },
    { top: 601, h: 91, dom: [-0.14, 0.195], ticks: [-0.1, 0, 0.1], dec: 1, xm: "ticks",
      marks: [mkD(BR_M32, GREEN, "s", GF), mkD(BR_M31, RED, "o", RF), mkD(BR_M33, PURPLE, "t", PF)],
      fits: [...fitD(BR_M32_FIT, GREEN_LINE), ...fitD(BR_M31_FIT, RED_LINE), ...fitD(BR_M33_FIT, PURPLE_LINE)],
      arrows: [
        { x1: 26.37, y1: 0.085, x2: 26.37, y2: 0.048 },
        { x1: 29.83, y1: 0.099, x2: 29.83, y2: 0.029 },
        { x1: 29.44, y1: -0.048, x2: 29.62, y2: -0.022 },
      ] },
    { top: 692, h: 91, dom: [-0.118, 0.121], ticks: [-0.1, 0, 0.1], dec: 1, xm: "labels",
      marks: [mkD(BR_M42, GREEN, "s", GF), mkD(BR_M41, RED, "o", RF), mkD(BR_M43, PURPLE, "t", PF)],
      fits: [...fitD(BR_M42_FIT, GREEN_LINE), ...fitD(BR_M41_FIT, RED_LINE), ...fitD(BR_M43_FIT, PURPLE_LINE)],
      arrows: [
        { x1: 27.92, y1: 0.042, x2: 27.92, y2: 0.016 },
        { x1: 27.67, y1: -0.055, x2: 27.89, y2: -0.04 },
        { x1: 30.33, y1: -0.05, x2: 30.33, y2: -0.021 },
      ] },
  ],
}

function Panel({ p }: { p: PanelSpec }) {
  return (
    <>
      {p.rows.map((r, ri) => {
        let x = p.left
        return p.segs.map((s, si) => {
          const el = (
            <Plot
              key={ri + "-" + si}
              x={x}
              y={r.top}
              w={s.w}
              h={r.h}
              xDom={s.dom}
              xTicks={s.ticks}
              xLab={s.lab}
              yDom={r.dom}
              yTicks={r.ticks}
              dec={r.dec}
              yLabels={si === 0}
              rightTicks={si === p.segs.length - 1}
              xMode={r.xm}
              marks={r.marks}
              fits={r.fits}
              size={p.size}
              lw={p.lw}
              arrows={r.arrows}
            />
          )
          x += s.w
          return el
        })
      })}
    </>
  )
}

function BreakX({ x, y }: { x: number; y: number }) {
  return (
    <svg style={{ position: "absolute", left: x - 8, top: y - 7 }} width={16} height={14}>
      <rect x={4.5} y={5} width={5.5} height={4} fill="#fff" />
      <line x1={1.5} y1={12} x2={6.5} y2={2} stroke={INK} strokeWidth={1.2} />
      <line x1={7.5} y1={12} x2={12.5} y2={2} stroke={INK} strokeWidth={1.2} />
    </svg>
  )
}

function BreakY({ x, y }: { x: number; y: number }) {
  return (
    <svg style={{ position: "absolute", left: x - 6, top: y - 6 }} width={12} height={12}>
      <rect x={4} y={4} width={4} height={4} fill="#fff" />
      <line x1={1} y1={5} x2={11} y2={2} stroke={INK} strokeWidth={1.2} />
      <line x1={1} y1={10} x2={11} y2={7} stroke={INK} strokeWidth={1.2} />
    </svg>
  )
}

function Frame(f: { l: number; r: number; t: number; b: number; seps: number[]; bx?: number; by?: number }) {
  const lw = 1.5
  return (
    <>
      <div style={{ position: "absolute", left: f.l - lw / 2, top: f.t - lw / 2, width: f.r - f.l + lw, height: f.b - f.t + lw, border: `${lw}px solid #3a3a3a`, boxSizing: "border-box" }} />
      {f.seps.map((s) => (
        <div key={s} style={{ position: "absolute", left: f.l, top: s - lw / 2, width: f.r - f.l, height: lw, background: "#3a3a3a" }} />
      ))}
      {f.bx !== undefined && [f.t, ...f.seps, f.b].map((y) => <BreakX key={"b" + y} x={f.bx as number} y={y} />)}
      {f.by !== undefined && (
        <>
          <BreakY x={f.l} y={f.by} />
          <BreakY x={f.r} y={f.by} />
        </>
      )}
    </>
  )
}

function Lbl({ x, y, t, c }: { x: number; y: number; t: string; c: string }) {
  return (
    <div style={{ position: "absolute", left: x, top: y, color: c, fontSize: 15, lineHeight: "15px", fontFamily: FONT, whiteSpace: "nowrap" }}>
      m<span style={{ position: "relative", top: 4, fontSize: 14 }}>{t}</span>
    </div>
  )
}

// rotated axis titles: bx is the x of the text baseline
function YTitles() {
  return (
    <svg style={{ position: "absolute", left: 0, top: 0, pointerEvents: "none" }} width={654} height={824}>
      {TITLES.map((t, i) => (
        <text
          key={i}
          transform={`translate(${t.bx},${t.cy}) rotate(-90)`}
          textAnchor="middle"
          fontFamily={FONT}
          fontSize={19}
          fill="#111"
        >
          {t.d ? "\u0394m" : "m"}
          <tspan fontSize={11} dy={5}>{t.s}</tspan>
        </text>
      ))}
    </svg>
  )
}

function XTitle({ cx, cy }: { cx: number; cy: number }) {
  return (
    <div style={{ position: "absolute", left: cx - 100, top: cy - 8, width: 200, textAlign: "center", fontFamily: FONT, fontSize: 15, lineHeight: "16px", color: "#111" }}>
      Wavenumber (cm<sup style={{ fontSize: 9, lineHeight: 0 }}>-1</sup>)
    </div>
  )
}

const LABELS = [
  { x: 223, y: 20, t: "13", c: GREEN }, { x: 218, y: 70, t: "12", c: RED },
  { x: 215, y: 110, t: "22", c: GREEN }, { x: 197, y: 123, t: "23", c: PURPLE }, { x: 205, y: 152, t: "21", c: RED },
  { x: 240, y: 190, t: "31", c: RED }, { x: 203, y: 217, t: "32", c: GREEN }, { x: 240, y: 237, t: "33", c: PURPLE },
  { x: 233, y: 302, t: "41", c: RED }, { x: 263, y: 326, t: "42", c: GREEN }, { x: 220, y: 336, t: "43", c: PURPLE },

  { x: 555, y: 22, t: "13", c: GREEN }, { x: 562, y: 71, t: "12", c: RED },
  { x: 552, y: 110, t: "22", c: GREEN }, { x: 543, y: 123, t: "23", c: PURPLE }, { x: 547, y: 163, t: "21", c: RED },
  { x: 553, y: 192, t: "32", c: GREEN }, { x: 565, y: 227, t: "31", c: RED }, { x: 572, y: 252, t: "33", c: PURPLE },
  { x: 580, y: 288, t: "42", c: GREEN }, { x: 587, y: 318, t: "41", c: RED }, { x: 548, y: 337, t: "43", c: PURPLE },

  { x: 225, y: 440, t: "13", c: GREEN }, { x: 233, y: 468, t: "12", c: RED },
  { x: 218, y: 525, t: "22", c: GREEN }, { x: 217, y: 542, t: "23", c: PURPLE }, { x: 205, y: 575, t: "21", c: RED },
  { x: 228, y: 603, t: "32", c: GREEN }, { x: 228, y: 629, t: "31", c: RED }, { x: 232, y: 645, t: "33", c: PURPLE },
  { x: 262, y: 702, t: "42", c: GREEN }, { x: 263, y: 734, t: "41", c: RED }, { x: 222, y: 748, t: "43", c: PURPLE },

  { x: 563, y: 426, t: "13", c: GREEN }, { x: 507, y: 485, t: "12", c: RED },
  { x: 480, y: 517, t: "23", c: PURPLE }, { x: 573, y: 525, t: "22", c: GREEN }, { x: 548, y: 580, t: "21", c: RED },
  { x: 473, y: 616, t: "32", c: GREEN }, { x: 572, y: 607, t: "33", c: PURPLE }, { x: 552, y: 666, t: "31", c: RED },
  { x: 513, y: 701, t: "42", c: GREEN }, { x: 502, y: 759, t: "43", c: PURPLE }, { x: 580, y: 756, t: "41", c: RED },
]

const TITLES = [
  { bx: 17.5, cy: 70, s: "1j" }, { bx: 17.5, cy: 151, s: "2k" }, { bx: 17.5, cy: 236, s: "3l" }, { bx: 17.5, cy: 322, s: "4m" },
  { bx: 343, cy: 70, s: "1j" }, { bx: 343, cy: 154, s: "2k" }, { bx: 343, cy: 238, s: "3l" }, { bx: 343, cy: 318, s: "4m" },
  { bx: 17.5, cy: 482, s: "1j" }, { bx: 17.5, cy: 556, s: "2k" }, { bx: 17.5, cy: 656, s: "3l" }, { bx: 17.5, cy: 738, s: "4m" },
  { bx: 344, cy: 446, s: "1j", d: true }, { bx: 344, cy: 540, s: "2k", d: true }, { bx: 344, cy: 646, s: "3l", d: true }, { bx: 344, cy: 727, s: "4m", d: true },
]

export default function App() {
  return (
    <div style={{ position: "absolute", left: 0, top: 0, width: 654, height: 824, background: "#fff", overflow: "hidden", fontFamily: FONT }}>
      <Panel p={TL} />
      <Panel p={TR} />
      <Panel p={BL} />
      <Panel p={BR} />
      <Frame l={52} r={317} t={5} b={372} seps={[97, 188, 280]} bx={184} by={233} />
      <Frame l={383} r={647} t={5} b={372} seps={[97, 188, 280]} bx={513} by={233} />
      <Frame l={53} r={316} t={418} b={782} seps={[510, 601, 691]} bx={183} by={647} />
      <Frame l={385} r={648} t={419} b={783} seps={[510, 601, 692]} />
      {LABELS.map((l, i) => (
        <Lbl key={i} {...l} />
      ))}
      <YTitles />
      <XTitle cx={182} cy={401} />
      <XTitle cx={513} cy={400} />
      <XTitle cx={183} cy={811} />
      <XTitle cx={517} cy={812} />
    </div>
  )
}
